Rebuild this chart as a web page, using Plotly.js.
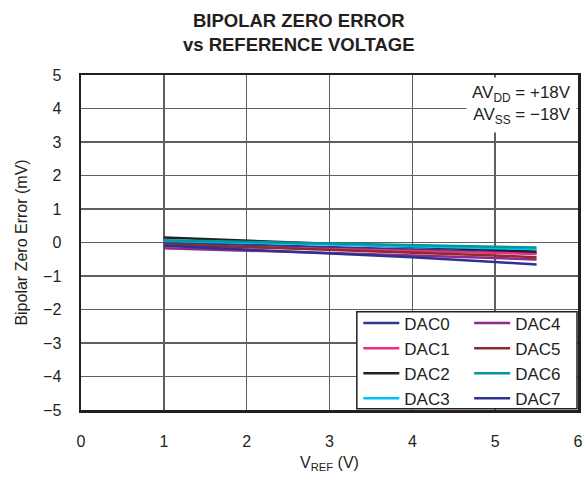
<!DOCTYPE html>
<html>
<head>
<meta charset="utf-8">
<script src="https://cdn.plot.ly/plotly-3.0.1.min.js"></script>
<style>html,body{margin:0;padding:0;background:#fff;}#chart{width:587px;height:479px;}</style>
</head>
<body>
<div id="chart"></div>
<script>
// Data
const vref = [1, 2, 3, 4, 5, 5.5];
const dac0 = [0.00, -0.07, -0.14, -0.21, -0.28, -0.31];
const dac1 = [-0.08, -0.14, -0.20, -0.26, -0.32, -0.34];
const dac2 = [0.15, 0.06, -0.03, -0.12, -0.22, -0.27];
const dac3 = [0.05, 0.00, -0.06, -0.12, -0.17, -0.20];
const dac4 = [-0.17, -0.24, -0.31, -0.38, -0.46, -0.51];
const dac5 = [-0.05, -0.13, -0.21, -0.29, -0.39, -0.44];
const dac6 = [0.07, 0.02, -0.03, -0.08, -0.13, -0.15];
const dac7 = [-0.10, -0.21, -0.32, -0.44, -0.58, -0.66];
const names = ['DAC0','DAC1','DAC2','DAC3','DAC4','DAC5','DAC6','DAC7'];
const series = [dac0, dac1, dac2, dac3, dac4, dac5, dac6, dac7];
const colors = ['#2B3990','#EC2C8C','#231F20','#00BFF3','#92278F','#8B2E2A','#00979D','#2E3192'];
const xTicks = [0, 1, 2, 3, 4, 5, 6];
const yTicks = [5, 4, 3, 2, 1, 0, -1, -2, -3, -4, -5];
const yTickText = yTicks.map(v => v < 0 ? '\u2212' + Math.abs(v) : String(v));

const traces = series.map((s, i) => ({
  x: vref, y: s, type: 'scatter', mode: 'lines', name: names[i],
  line: {color: colors[i], width: 2.5},
  legend: i < 4 ? 'legend' : 'legend2'
}));

const font = {family: 'Liberation Sans, Arial, sans-serif', color: '#231F20'};
const layout = {
  width: 587, height: 479,
  margin: {l: 81, r: 9, t: 75, b: 69},
  paper_bgcolor: '#fff', plot_bgcolor: '#fff',
  font: Object.assign({}, font, {size: 16}),
  title: {text: '<b>BIPOLAR ZERO ERROR<br>vs REFERENCE VOLTAGE</b>', font: Object.assign({}, font, {size: 18.5}),
          x: 0.509, xanchor: 'center', xref: 'container', y: 1 - 27 / 479, yanchor: 'middle', yref: 'container'},
  xaxis: {range: [0, 6], tickvals: xTicks, ticktext: xTicks.map(String), ticks: '', showgrid: true,
          gridcolor: '#5f5f5f', gridwidth: 1.5, zeroline: false, showline: true, mirror: true,
          linecolor: '#231F20', linewidth: 2.5, ticklabelstandoff: 15, tickfont: {size: 16},
          title: {text: 'V<sub>REF</sub> (V)', font: {size: 16}, standoff: 8}},
  yaxis: {range: [-5, 5], tickvals: yTicks, ticktext: yTickText, ticks: '', showgrid: true,
          gridcolor: '#5f5f5f', gridwidth: 1.5, zeroline: false, showline: true, mirror: true,
          linecolor: '#231F20', linewidth: 2.5, ticklabelstandoff: 14, tickfont: {size: 16},
          title: {text: 'Bipolar Zero Error (mV)', font: {size: 16}, standoff: 12}},
  showlegend: true,
  legend: {x: 0.558, xanchor: 'left', y: 0.312, yanchor: 'top', bgcolor: 'rgba(0,0,0,0)', borderwidth: 0,
           font: {size: 17}, tracegroupgap: 0, itemwidth: 36},
  legend2: {x: 0.781, xanchor: 'left', y: 0.312, yanchor: 'top', bgcolor: 'rgba(0,0,0,0)', borderwidth: 0,
            font: {size: 17}, tracegroupgap: 0, itemwidth: 36},
  shapes: [{type: 'rect', xref: 'paper', yref: 'paper', x0: 0.555, x1: 0.998, y0: 0.004, y1: 0.293,
            fillcolor: '#fff', line: {color: '#231F20', width: 1.5}, layer: 'above'}],
  annotations: [{xref: 'paper', yref: 'paper', x: 0.998, y: 0.995, xanchor: 'right', yanchor: 'top',
                 text: 'AV<sub>DD</sub> = +18V<br>AV<sub>SS</sub> = \u221218V', align: 'right', showarrow: false,
                 bgcolor: '#fff', borderpad: 5, font: {size: 17}}]
};
Plotly.newPlot('chart', traces, layout, {displayModeBar: false, staticPlot: true});
</script>
</body>
</html>
